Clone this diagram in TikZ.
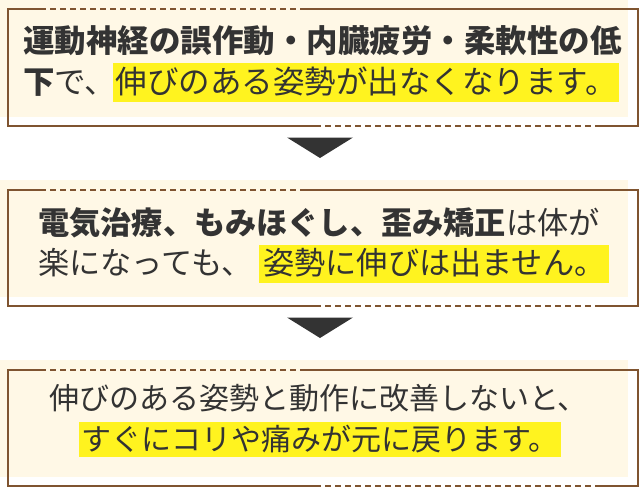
\documentclass[tikz,border=0pt]{standalone}
\usepackage{fontspec}
\setmainfont{Noto Sans CJK JP}
\newcommand\fsz[1]{\fontsize{#1}{#1}\selectfont}
\definecolor{bgc}{HTML}{FFF8E6}
\definecolor{brn}{HTML}{7F5430}
\definecolor{hly}{HTML}{FFF31F}
\definecolor{ink}{HTML}{333333}
\begin{document}
\begin{tikzpicture}[x=1pt,y=-1pt,
  txt/.style={inner sep=0pt, anchor=base west, text=ink},
  hlbox/.style={inner ysep=0pt, anchor=base west, fill=hly, text=ink},
  edge/.style={draw=brn, line width=2pt},
  dashedge/.style={draw=brn, line width=2pt, dash pattern=on 6pt off 4pt},
  tri/.style={fill=ink}]
\useasboundingbox (0,0) rectangle (640,487);
\foreach \o in {0,180,360} {
  \fill[bgc] (0,\o) rectangle (628,\o+117);
  \draw[edge] (40,\o+9.5) -- (8,\o+9.5) -- (8,\o+125.5) -- (315,\o+125.5);
  \draw[edge] (303,\o+9.5) -- (638,\o+9.5) -- (638,\o+125.5) -- (600,\o+125.5);
  \draw[dashedge] (40,\o+9.5) -- (303,\o+9.5);
  \draw[dashedge] (315,\o+125.5) -- (600,\o+125.5);
}
\foreach \o in {0,180} {
  \fill[tri] (287,\o+137.5) -- (353,\o+137.5) -- (320,\o+158) -- cycle;
}
% box 1
\node[txt,font=\fsz{31.5}\bfseries] (b1l1) at (23,53) {運動神経の誤作動・内臓疲労・柔軟性の低};
\node[txt,font=\fsz{31.5}] (b1l2) at (23,93.5) {{\bfseries 下}で、};
\node[hlbox,font=\fsz{31.5},inner xsep=2.5pt,text height=30.5pt,text depth=8.5pt] (b1h) at (113,93.5) {伸びのある姿勢が出なくなります。};
% box 2
\node[txt,font=\fsz{31.2}] (b2l1) at (38,234) {{\bfseries 電気治療、もみほぐし、歪み矯正}は体が};
\node[txt,font=\fsz{31.2}] (b2l2) at (38,274) {楽になっても、};
\node[hlbox,font=\fsz{31.2},inner xsep=4pt,text height=29pt,text depth=9pt] (b2h) at (259,274) {姿勢に伸びは出ません。};
% box 3
\node[txt,font=\fsz{30}] (b3l1) at (49,409.5) {伸びのある姿勢と動作に改善しないと、};
\node[hlbox,font=\fsz{30},inner xsep=2.5pt,text height=28pt,text depth=7pt] (b3h) at (79,450) {すぐにコリや痛みが元に戻ります。};
\end{tikzpicture}
\end{document}
